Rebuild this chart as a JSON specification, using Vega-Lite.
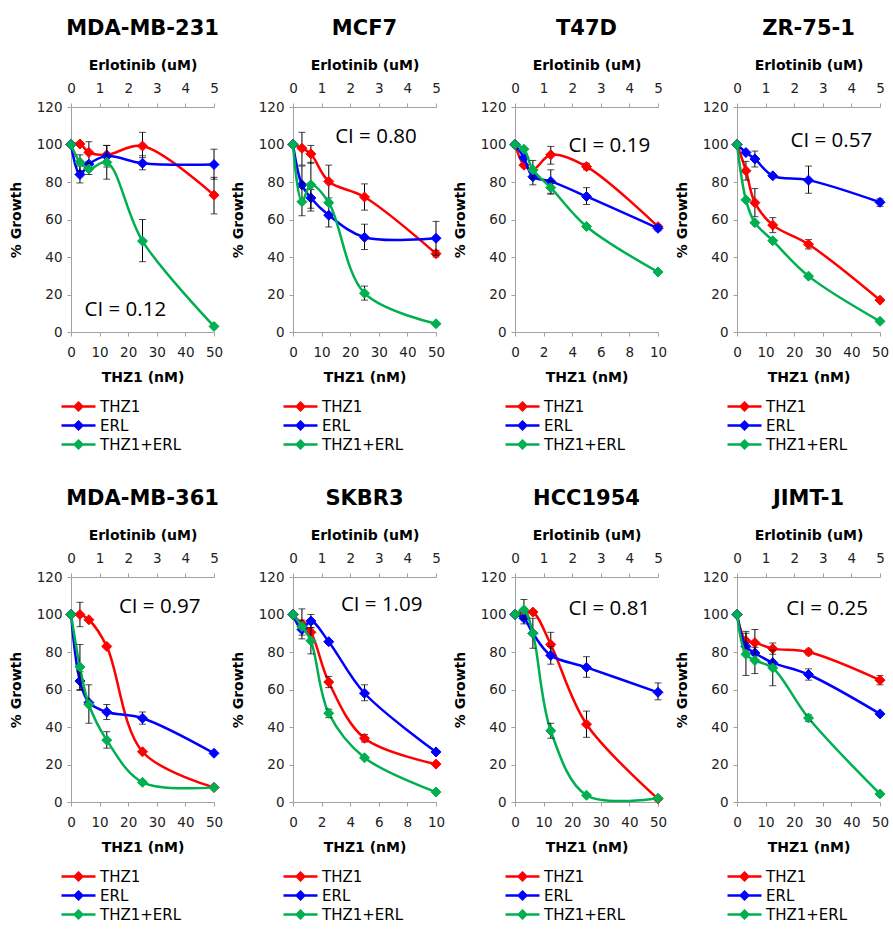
{
"$schema":"https://vega.github.io/schema/vega-lite/v6.json",
"padding":{"left":9,"top":18,"right":0,"bottom":3},
"datasets":{
"pts":[
{"p":"MDA-MB-231","s":"THZ1","d":0,"v":100},{"p":"MDA-MB-231","s":"THZ1","d":3.125,"v":100.3},{"p":"MDA-MB-231","s":"THZ1","d":6.25,"v":95.8,"lo":91,"hi":101.5},{"p":"MDA-MB-231","s":"THZ1","d":12.5,"v":94.5},{"p":"MDA-MB-231","s":"THZ1","d":25,"v":99.2,"lo":93,"hi":106.5},{"p":"MDA-MB-231","s":"THZ1","d":50,"v":73,"lo":63,"hi":82.5},
{"p":"MDA-MB-231","s":"ERL","d":0,"v":100},{"p":"MDA-MB-231","s":"ERL","d":0.3125,"v":84,"lo":79.5,"hi":88.5},{"p":"MDA-MB-231","s":"ERL","d":0.625,"v":89.5},{"p":"MDA-MB-231","s":"ERL","d":1.25,"v":93.8,"lo":88,"hi":99.5},{"p":"MDA-MB-231","s":"ERL","d":2.5,"v":90,"lo":86.5,"hi":94},{"p":"MDA-MB-231","s":"ERL","d":5,"v":89.3,"lo":81.5,"hi":97.5},
{"p":"MDA-MB-231","s":"THZ1+ERL","d":0,"v":100},{"p":"MDA-MB-231","s":"THZ1+ERL","d":3.125,"v":90.5,"lo":86,"hi":94.5},{"p":"MDA-MB-231","s":"THZ1+ERL","d":6.25,"v":87,"lo":84,"hi":90},{"p":"MDA-MB-231","s":"THZ1+ERL","d":12.5,"v":90.5,"lo":81.5,"hi":99.5},{"p":"MDA-MB-231","s":"THZ1+ERL","d":25,"v":48.5,"lo":37.5,"hi":60},{"p":"MDA-MB-231","s":"THZ1+ERL","d":50,"v":3},

{"p":"MCF7","s":"THZ1","d":0,"v":100},{"p":"MCF7","s":"THZ1","d":3.125,"v":98,"lo":89,"hi":106.5},{"p":"MCF7","s":"THZ1","d":6.25,"v":95,"lo":90,"hi":99.5},{"p":"MCF7","s":"THZ1","d":12.5,"v":80.3,"lo":71.5,"hi":89},{"p":"MCF7","s":"THZ1","d":25,"v":72,"lo":65,"hi":79},{"p":"MCF7","s":"THZ1","d":50,"v":41.8,"lo":40,"hi":43.5},
{"p":"MCF7","s":"ERL","d":0,"v":100},{"p":"MCF7","s":"ERL","d":0.3125,"v":78.5},{"p":"MCF7","s":"ERL","d":0.625,"v":71.5,"lo":66,"hi":76},{"p":"MCF7","s":"ERL","d":1.25,"v":62.3,"lo":56,"hi":68},{"p":"MCF7","s":"ERL","d":2.5,"v":50.5,"lo":44,"hi":57.5},{"p":"MCF7","s":"ERL","d":5,"v":50,"lo":41,"hi":59},
{"p":"MCF7","s":"THZ1+ERL","d":0,"v":100},{"p":"MCF7","s":"THZ1+ERL","d":3.125,"v":69.5,"lo":62,"hi":88.5},{"p":"MCF7","s":"THZ1+ERL","d":6.25,"v":78.5,"lo":64.5,"hi":90.5},{"p":"MCF7","s":"THZ1+ERL","d":12.5,"v":69},{"p":"MCF7","s":"THZ1+ERL","d":25,"v":20.7,"lo":17,"hi":24.5},{"p":"MCF7","s":"THZ1+ERL","d":50,"v":4.4},

{"p":"T47D","s":"THZ1","d":0,"v":100},{"p":"T47D","s":"THZ1","d":0.625,"v":89},{"p":"T47D","s":"THZ1","d":1.25,"v":86.5},{"p":"T47D","s":"THZ1","d":2.5,"v":94.5,"lo":89.5,"hi":99},{"p":"T47D","s":"THZ1","d":5,"v":88.2,"lo":86.5,"hi":90},{"p":"T47D","s":"THZ1","d":10,"v":56.2},
{"p":"T47D","s":"ERL","d":0,"v":100},{"p":"T47D","s":"ERL","d":0.3125,"v":93},{"p":"T47D","s":"ERL","d":0.625,"v":82.8,"lo":78.5,"hi":87},{"p":"T47D","s":"ERL","d":1.25,"v":80.3,"lo":74,"hi":86.5},{"p":"T47D","s":"ERL","d":2.5,"v":72.3,"lo":68,"hi":77},{"p":"T47D","s":"ERL","d":5,"v":55.3,"lo":54,"hi":57},
{"p":"T47D","s":"THZ1+ERL","d":0,"v":100},{"p":"T47D","s":"THZ1+ERL","d":0.625,"v":97.5},{"p":"T47D","s":"THZ1+ERL","d":1.25,"v":86.5,"lo":82,"hi":91.5},{"p":"T47D","s":"THZ1+ERL","d":2.5,"v":77,"lo":73.5,"hi":80.5},{"p":"T47D","s":"THZ1+ERL","d":5,"v":56.3},{"p":"T47D","s":"THZ1+ERL","d":10,"v":32},

{"p":"ZR-75-1","s":"THZ1","d":0,"v":100},{"p":"ZR-75-1","s":"THZ1","d":3.125,"v":86,"lo":81,"hi":91},{"p":"ZR-75-1","s":"THZ1","d":6.25,"v":69,"lo":61.5,"hi":76.5},{"p":"ZR-75-1","s":"THZ1","d":12.5,"v":57,"lo":53,"hi":61},{"p":"ZR-75-1","s":"THZ1","d":25,"v":46.8,"lo":44.3,"hi":49.3},{"p":"ZR-75-1","s":"THZ1","d":50,"v":17},
{"p":"ZR-75-1","s":"ERL","d":0,"v":100},{"p":"ZR-75-1","s":"ERL","d":0.3125,"v":95.7},{"p":"ZR-75-1","s":"ERL","d":0.625,"v":92.3,"lo":88,"hi":96.5},{"p":"ZR-75-1","s":"ERL","d":1.25,"v":83.3},{"p":"ZR-75-1","s":"ERL","d":2.5,"v":81,"lo":74,"hi":88.5},{"p":"ZR-75-1","s":"ERL","d":5,"v":69.2,"lo":67,"hi":71},
{"p":"ZR-75-1","s":"THZ1+ERL","d":0,"v":100},{"p":"ZR-75-1","s":"THZ1+ERL","d":3.125,"v":70.5},{"p":"ZR-75-1","s":"THZ1+ERL","d":6.25,"v":58.3},{"p":"ZR-75-1","s":"THZ1+ERL","d":12.5,"v":48.7},{"p":"ZR-75-1","s":"THZ1+ERL","d":25,"v":29.8},{"p":"ZR-75-1","s":"THZ1+ERL","d":50,"v":5.7},

{"p":"MDA-MB-361","s":"THZ1","d":0,"v":100},{"p":"MDA-MB-361","s":"THZ1","d":3.125,"v":100,"lo":93.5,"hi":106.5},{"p":"MDA-MB-361","s":"THZ1","d":6.25,"v":97.2},{"p":"MDA-MB-361","s":"THZ1","d":12.5,"v":83},{"p":"MDA-MB-361","s":"THZ1","d":25,"v":26.8},{"p":"MDA-MB-361","s":"THZ1","d":50,"v":7.8},
{"p":"MDA-MB-361","s":"ERL","d":0,"v":100},{"p":"MDA-MB-361","s":"ERL","d":0.3125,"v":64.5,"lo":59.5,"hi":69.5},{"p":"MDA-MB-361","s":"ERL","d":0.625,"v":53},{"p":"MDA-MB-361","s":"ERL","d":1.25,"v":48,"lo":44,"hi":52},{"p":"MDA-MB-361","s":"ERL","d":2.5,"v":44.7,"lo":41.5,"hi":48},{"p":"MDA-MB-361","s":"ERL","d":5,"v":26},
{"p":"MDA-MB-361","s":"THZ1+ERL","d":0,"v":100},{"p":"MDA-MB-361","s":"THZ1+ERL","d":3.125,"v":72,"lo":60,"hi":84},{"p":"MDA-MB-361","s":"THZ1+ERL","d":6.25,"v":52,"lo":42,"hi":62.5},{"p":"MDA-MB-361","s":"THZ1+ERL","d":12.5,"v":33,"lo":28.7,"hi":37.5},{"p":"MDA-MB-361","s":"THZ1+ERL","d":25,"v":10.5},{"p":"MDA-MB-361","s":"THZ1+ERL","d":50,"v":7.8},

{"p":"SKBR3","s":"THZ1","d":0,"v":100},{"p":"SKBR3","s":"THZ1","d":0.625,"v":95,"lo":89,"hi":103},{"p":"SKBR3","s":"THZ1","d":1.25,"v":90.5,"lo":86,"hi":95},{"p":"SKBR3","s":"THZ1","d":2.5,"v":64,"lo":61,"hi":67},{"p":"SKBR3","s":"THZ1","d":5,"v":34,"lo":32,"hi":36},{"p":"SKBR3","s":"THZ1","d":10,"v":20.2},
{"p":"SKBR3","s":"ERL","d":0,"v":100},{"p":"SKBR3","s":"ERL","d":0.3125,"v":92,"lo":87,"hi":97},{"p":"SKBR3","s":"ERL","d":0.625,"v":96.5,"lo":93,"hi":100},{"p":"SKBR3","s":"ERL","d":1.25,"v":85.5},{"p":"SKBR3","s":"ERL","d":2.5,"v":58,"lo":54,"hi":62.5},{"p":"SKBR3","s":"ERL","d":5,"v":26.7},
{"p":"SKBR3","s":"THZ1+ERL","d":0,"v":100},{"p":"SKBR3","s":"THZ1+ERL","d":0.625,"v":93.6},{"p":"SKBR3","s":"THZ1+ERL","d":1.25,"v":86,"lo":79,"hi":93},{"p":"SKBR3","s":"THZ1+ERL","d":2.5,"v":47.3,"lo":45,"hi":49.5},{"p":"SKBR3","s":"THZ1+ERL","d":5,"v":23.6},{"p":"SKBR3","s":"THZ1+ERL","d":10,"v":5.3},

{"p":"HCC1954","s":"THZ1","d":0,"v":100},{"p":"HCC1954","s":"THZ1","d":3.125,"v":101},{"p":"HCC1954","s":"THZ1","d":6.25,"v":101.3},{"p":"HCC1954","s":"THZ1","d":12.5,"v":84,"lo":77.5,"hi":90.5},{"p":"HCC1954","s":"THZ1","d":25,"v":41.5,"lo":34.5,"hi":48.5},{"p":"HCC1954","s":"THZ1","d":50,"v":1.7},
{"p":"HCC1954","s":"ERL","d":0,"v":100},{"p":"HCC1954","s":"ERL","d":0.3125,"v":98,"lo":95,"hi":101},{"p":"HCC1954","s":"ERL","d":0.625,"v":90},{"p":"HCC1954","s":"ERL","d":1.25,"v":78.2,"lo":73.5,"hi":83},{"p":"HCC1954","s":"ERL","d":2.5,"v":71.8,"lo":66.5,"hi":77.5},{"p":"HCC1954","s":"ERL","d":5,"v":58.5,"lo":54.5,"hi":63.5},
{"p":"HCC1954","s":"THZ1+ERL","d":0,"v":100},{"p":"HCC1954","s":"THZ1+ERL","d":3.125,"v":102.5,"lo":97.5,"hi":108},{"p":"HCC1954","s":"THZ1+ERL","d":6.25,"v":90,"lo":82,"hi":98},{"p":"HCC1954","s":"THZ1+ERL","d":12.5,"v":38,"lo":34,"hi":42},{"p":"HCC1954","s":"THZ1+ERL","d":25,"v":3.6},{"p":"HCC1954","s":"THZ1+ERL","d":50,"v":2},

{"p":"JIMT-1","s":"THZ1","d":0,"v":100},{"p":"JIMT-1","s":"THZ1","d":3.125,"v":86,"lo":80.5,"hi":91},{"p":"JIMT-1","s":"THZ1","d":6.25,"v":85,"lo":78,"hi":92},{"p":"JIMT-1","s":"THZ1","d":12.5,"v":81.8,"lo":78.8,"hi":84.8},{"p":"JIMT-1","s":"THZ1","d":25,"v":80,"lo":78.5,"hi":81.5},{"p":"JIMT-1","s":"THZ1","d":50,"v":65,"lo":62.5,"hi":67.5},
{"p":"JIMT-1","s":"ERL","d":0,"v":100},{"p":"JIMT-1","s":"ERL","d":0.3125,"v":83},{"p":"JIMT-1","s":"ERL","d":0.625,"v":79.5},{"p":"JIMT-1","s":"ERL","d":1.25,"v":74.3},{"p":"JIMT-1","s":"ERL","d":2.5,"v":68,"lo":65,"hi":71},{"p":"JIMT-1","s":"ERL","d":5,"v":47},
{"p":"JIMT-1","s":"THZ1+ERL","d":0,"v":100},{"p":"JIMT-1","s":"THZ1+ERL","d":3.125,"v":78.8,"lo":67.5,"hi":90},{"p":"JIMT-1","s":"THZ1+ERL","d":6.25,"v":75.5,"lo":68.5,"hi":82.5},{"p":"JIMT-1","s":"THZ1+ERL","d":12.5,"v":71.5,"lo":62,"hi":81},{"p":"JIMT-1","s":"THZ1+ERL","d":25,"v":44.8,"lo":43,"hi":46.5},{"p":"JIMT-1","s":"THZ1+ERL","d":50,"v":4.3}
],
"ci":[
{"p":"MDA-MB-231","t":"CI = 0.12","d":19,"v":12},
{"p":"MCF7","t":"CI = 0.80","d":29,"v":104},
{"p":"T47D","t":"CI = 0.19","d":6.6,"v":99},
{"p":"ZR-75-1","t":"CI = 0.57","d":33,"v":102},
{"p":"MDA-MB-361","t":"CI = 0.97","d":31,"v":104},
{"p":"SKBR3","t":"CI = 1.09","d":6.2,"v":105},
{"p":"HCC1954","t":"CI = 0.81","d":33,"v":103},
{"p":"JIMT-1","t":"CI = 0.25","d":31.5,"v":103}
]
},
"columns":4,
"spacing":{"row":34,"column":8},
"resolve":{"legend":{"fill":"independent","stroke":"independent"},"scale":{"fill":"independent","stroke":"independent"}},
"concat":[
{"width":143,"height":225,"title":"MDA-MB-231","resolve":{"scale":{"x":"independent"}},"layer":[
{"data":{"name":"pts"},"transform":[{"filter":"datum.p==='MDA-MB-231' && datum.s==='THZ1'"}],
"encoding":{"x":{"field":"d","type":"quantitative","scale":{"domain":[0,50],"nice":false},"axis":{"orient":"bottom","title":"THZ1 (nM)","values":[0,10,20,30,40,50]}},"y":{"field":"v","type":"quantitative","scale":{"domain":[0,120],"nice":false},"axis":{"values":[0,20,40,60,80,100,120]},"title":"% Growth"}},
"layer":[
{"mark":{"type":"line","interpolate":"catmull-rom","strokeWidth":2.5},"encoding":{"stroke":{"field":"s","type":"nominal","scale":{"domain":["THZ1","ERL","THZ1+ERL"],"range":["#ff0000","#0000ff","#00b050"]},"legend":{"orient":"bottom","direction":"vertical","title":null,"symbolType":"M-3.4,0L3.4,0M0,-0.75L0.75,0L0,0.75L-0.75,0Z","symbolSize":100,"symbolStrokeWidth":2.5,"labelOffset":14,"labelFontSize":15,"labelFont":"DejaVu Sans","labelColor":"black","rowPadding":0,"offset":14}}}},
{"transform":[{"filter":"isValid(datum.lo)"}],"mark":{"type":"errorbar","ticks":{"size":7},"color":"black","thickness":1},"encoding":{"y":{"field":"lo","type":"quantitative","title":"% Growth"},"y2":{"field":"hi"}}},
{"mark":{"type":"point","shape":"diamond","filled":true,"opacity":1,"strokeWidth":1,"size":100},"encoding":{"fill":{"field":"s","type":"nominal","scale":{"domain":["THZ1","ERL","THZ1+ERL"],"range":["#ff0000","#0000ff","#00b050"]},"legend":{"orient":"bottom","direction":"vertical","title":null,"symbolType":"M-3.4,0L3.4,0M0,-0.75L0.75,0L0,0.75L-0.75,0Z","symbolSize":100,"symbolStrokeWidth":2.5,"labelOffset":14,"labelFontSize":15,"labelFont":"DejaVu Sans","labelColor":"black","rowPadding":0,"offset":14}},"stroke":{"field":"s","type":"nominal","scale":{"domain":["THZ1","ERL","THZ1+ERL"],"range":["#ff0000","#0000ff","#00b050"]},"legend":{"orient":"bottom","direction":"vertical","title":null,"symbolType":"M-3.4,0L3.4,0M0,-0.75L0.75,0L0,0.75L-0.75,0Z","symbolSize":100,"symbolStrokeWidth":2.5,"labelOffset":14,"labelFontSize":15,"labelFont":"DejaVu Sans","labelColor":"black","rowPadding":0,"offset":14}}}}
]},
{"data":{"name":"pts"},"transform":[{"filter":"datum.p==='MDA-MB-231' && datum.s==='ERL'"}],
"encoding":{"x":{"field":"d","type":"quantitative","scale":{"domain":[0,5],"nice":false},"axis":{"orient":"top","title":"Erlotinib (uM)","values":[0,1,2,3,4,5]}},"y":{"field":"v","type":"quantitative","scale":{"domain":[0,120],"nice":false},"axis":{"values":[0,20,40,60,80,100,120]},"title":"% Growth"}},
"layer":[
{"mark":{"type":"line","interpolate":"catmull-rom","strokeWidth":2.5},"encoding":{"stroke":{"field":"s","type":"nominal","scale":{"domain":["THZ1","ERL","THZ1+ERL"],"range":["#ff0000","#0000ff","#00b050"]},"legend":{"orient":"bottom","direction":"vertical","title":null,"symbolType":"M-3.4,0L3.4,0M0,-0.75L0.75,0L0,0.75L-0.75,0Z","symbolSize":100,"symbolStrokeWidth":2.5,"labelOffset":14,"labelFontSize":15,"labelFont":"DejaVu Sans","labelColor":"black","rowPadding":0,"offset":14}}}},
{"transform":[{"filter":"isValid(datum.lo)"}],"mark":{"type":"errorbar","ticks":{"size":7},"color":"black","thickness":1},"encoding":{"y":{"field":"lo","type":"quantitative","title":"% Growth"},"y2":{"field":"hi"}}},
{"mark":{"type":"point","shape":"diamond","filled":true,"opacity":1,"strokeWidth":1,"size":100},"encoding":{"fill":{"field":"s","type":"nominal","scale":{"domain":["THZ1","ERL","THZ1+ERL"],"range":["#ff0000","#0000ff","#00b050"]},"legend":{"orient":"bottom","direction":"vertical","title":null,"symbolType":"M-3.4,0L3.4,0M0,-0.75L0.75,0L0,0.75L-0.75,0Z","symbolSize":100,"symbolStrokeWidth":2.5,"labelOffset":14,"labelFontSize":15,"labelFont":"DejaVu Sans","labelColor":"black","rowPadding":0,"offset":14}},"stroke":{"field":"s","type":"nominal","scale":{"domain":["THZ1","ERL","THZ1+ERL"],"range":["#ff0000","#0000ff","#00b050"]},"legend":{"orient":"bottom","direction":"vertical","title":null,"symbolType":"M-3.4,0L3.4,0M0,-0.75L0.75,0L0,0.75L-0.75,0Z","symbolSize":100,"symbolStrokeWidth":2.5,"labelOffset":14,"labelFontSize":15,"labelFont":"DejaVu Sans","labelColor":"black","rowPadding":0,"offset":14}}}}
]},
{"data":{"name":"pts"},"transform":[{"filter":"datum.p==='MDA-MB-231' && datum.s==='THZ1+ERL'"}],
"encoding":{"x":{"field":"d","type":"quantitative","scale":{"domain":[0,50],"nice":false},"axis":null},"y":{"field":"v","type":"quantitative","scale":{"domain":[0,120],"nice":false},"axis":{"values":[0,20,40,60,80,100,120]},"title":"% Growth"}},
"layer":[
{"mark":{"type":"line","interpolate":"catmull-rom","strokeWidth":2.5},"encoding":{"stroke":{"field":"s","type":"nominal","scale":{"domain":["THZ1","ERL","THZ1+ERL"],"range":["#ff0000","#0000ff","#00b050"]},"legend":{"orient":"bottom","direction":"vertical","title":null,"symbolType":"M-3.4,0L3.4,0M0,-0.75L0.75,0L0,0.75L-0.75,0Z","symbolSize":100,"symbolStrokeWidth":2.5,"labelOffset":14,"labelFontSize":15,"labelFont":"DejaVu Sans","labelColor":"black","rowPadding":0,"offset":14}}}},
{"transform":[{"filter":"isValid(datum.lo)"}],"mark":{"type":"errorbar","ticks":{"size":7},"color":"black","thickness":1},"encoding":{"y":{"field":"lo","type":"quantitative","title":"% Growth"},"y2":{"field":"hi"}}},
{"mark":{"type":"point","shape":"diamond","filled":true,"opacity":1,"strokeWidth":1,"size":100},"encoding":{"fill":{"field":"s","type":"nominal","scale":{"domain":["THZ1","ERL","THZ1+ERL"],"range":["#ff0000","#0000ff","#00b050"]},"legend":{"orient":"bottom","direction":"vertical","title":null,"symbolType":"M-3.4,0L3.4,0M0,-0.75L0.75,0L0,0.75L-0.75,0Z","symbolSize":100,"symbolStrokeWidth":2.5,"labelOffset":14,"labelFontSize":15,"labelFont":"DejaVu Sans","labelColor":"black","rowPadding":0,"offset":14}},"stroke":{"field":"s","type":"nominal","scale":{"domain":["THZ1","ERL","THZ1+ERL"],"range":["#ff0000","#0000ff","#00b050"]},"legend":{"orient":"bottom","direction":"vertical","title":null,"symbolType":"M-3.4,0L3.4,0M0,-0.75L0.75,0L0,0.75L-0.75,0Z","symbolSize":100,"symbolStrokeWidth":2.5,"labelOffset":14,"labelFontSize":15,"labelFont":"DejaVu Sans","labelColor":"black","rowPadding":0,"offset":14}}}}
]},
{"data":{"name":"ci"},"transform":[{"filter":"datum.p==='MDA-MB-231'"}],"mark":{"type":"text","font":"Open Sans","fontSize":20.5,"color":"black","align":"center","baseline":"middle"},
"encoding":{"x":{"field":"d","type":"quantitative","scale":{"domain":[0,50],"nice":false},"axis":null},"y":{"field":"v","type":"quantitative","scale":{"domain":[0,120],"nice":false},"axis":{"values":[0,20,40,60,80,100,120]},"title":"% Growth"},"text":{"field":"t"}}}
]},
{"width":143,"height":225,"title":"MCF7","resolve":{"scale":{"x":"independent"}},"layer":[
{"data":{"name":"pts"},"transform":[{"filter":"datum.p==='MCF7' && datum.s==='THZ1'"}],
"encoding":{"x":{"field":"d","type":"quantitative","scale":{"domain":[0,50],"nice":false},"axis":{"orient":"bottom","title":"THZ1 (nM)","values":[0,10,20,30,40,50]}},"y":{"field":"v","type":"quantitative","scale":{"domain":[0,120],"nice":false},"axis":{"values":[0,20,40,60,80,100,120]},"title":"% Growth"}},
"layer":[
{"mark":{"type":"line","interpolate":"catmull-rom","strokeWidth":2.5},"encoding":{"stroke":{"field":"s","type":"nominal","scale":{"domain":["THZ1","ERL","THZ1+ERL"],"range":["#ff0000","#0000ff","#00b050"]},"legend":{"orient":"bottom","direction":"vertical","title":null,"symbolType":"M-3.4,0L3.4,0M0,-0.75L0.75,0L0,0.75L-0.75,0Z","symbolSize":100,"symbolStrokeWidth":2.5,"labelOffset":14,"labelFontSize":15,"labelFont":"DejaVu Sans","labelColor":"black","rowPadding":0,"offset":14}}}},
{"transform":[{"filter":"isValid(datum.lo)"}],"mark":{"type":"errorbar","ticks":{"size":7},"color":"black","thickness":1},"encoding":{"y":{"field":"lo","type":"quantitative","title":"% Growth"},"y2":{"field":"hi"}}},
{"mark":{"type":"point","shape":"diamond","filled":true,"opacity":1,"strokeWidth":1,"size":100},"encoding":{"fill":{"field":"s","type":"nominal","scale":{"domain":["THZ1","ERL","THZ1+ERL"],"range":["#ff0000","#0000ff","#00b050"]},"legend":{"orient":"bottom","direction":"vertical","title":null,"symbolType":"M-3.4,0L3.4,0M0,-0.75L0.75,0L0,0.75L-0.75,0Z","symbolSize":100,"symbolStrokeWidth":2.5,"labelOffset":14,"labelFontSize":15,"labelFont":"DejaVu Sans","labelColor":"black","rowPadding":0,"offset":14}},"stroke":{"field":"s","type":"nominal","scale":{"domain":["THZ1","ERL","THZ1+ERL"],"range":["#ff0000","#0000ff","#00b050"]},"legend":{"orient":"bottom","direction":"vertical","title":null,"symbolType":"M-3.4,0L3.4,0M0,-0.75L0.75,0L0,0.75L-0.75,0Z","symbolSize":100,"symbolStrokeWidth":2.5,"labelOffset":14,"labelFontSize":15,"labelFont":"DejaVu Sans","labelColor":"black","rowPadding":0,"offset":14}}}}
]},
{"data":{"name":"pts"},"transform":[{"filter":"datum.p==='MCF7' && datum.s==='ERL'"}],
"encoding":{"x":{"field":"d","type":"quantitative","scale":{"domain":[0,5],"nice":false},"axis":{"orient":"top","title":"Erlotinib (uM)","values":[0,1,2,3,4,5]}},"y":{"field":"v","type":"quantitative","scale":{"domain":[0,120],"nice":false},"axis":{"values":[0,20,40,60,80,100,120]},"title":"% Growth"}},
"layer":[
{"mark":{"type":"line","interpolate":"catmull-rom","strokeWidth":2.5},"encoding":{"stroke":{"field":"s","type":"nominal","scale":{"domain":["THZ1","ERL","THZ1+ERL"],"range":["#ff0000","#0000ff","#00b050"]},"legend":{"orient":"bottom","direction":"vertical","title":null,"symbolType":"M-3.4,0L3.4,0M0,-0.75L0.75,0L0,0.75L-0.75,0Z","symbolSize":100,"symbolStrokeWidth":2.5,"labelOffset":14,"labelFontSize":15,"labelFont":"DejaVu Sans","labelColor":"black","rowPadding":0,"offset":14}}}},
{"transform":[{"filter":"isValid(datum.lo)"}],"mark":{"type":"errorbar","ticks":{"size":7},"color":"black","thickness":1},"encoding":{"y":{"field":"lo","type":"quantitative","title":"% Growth"},"y2":{"field":"hi"}}},
{"mark":{"type":"point","shape":"diamond","filled":true,"opacity":1,"strokeWidth":1,"size":100},"encoding":{"fill":{"field":"s","type":"nominal","scale":{"domain":["THZ1","ERL","THZ1+ERL"],"range":["#ff0000","#0000ff","#00b050"]},"legend":{"orient":"bottom","direction":"vertical","title":null,"symbolType":"M-3.4,0L3.4,0M0,-0.75L0.75,0L0,0.75L-0.75,0Z","symbolSize":100,"symbolStrokeWidth":2.5,"labelOffset":14,"labelFontSize":15,"labelFont":"DejaVu Sans","labelColor":"black","rowPadding":0,"offset":14}},"stroke":{"field":"s","type":"nominal","scale":{"domain":["THZ1","ERL","THZ1+ERL"],"range":["#ff0000","#0000ff","#00b050"]},"legend":{"orient":"bottom","direction":"vertical","title":null,"symbolType":"M-3.4,0L3.4,0M0,-0.75L0.75,0L0,0.75L-0.75,0Z","symbolSize":100,"symbolStrokeWidth":2.5,"labelOffset":14,"labelFontSize":15,"labelFont":"DejaVu Sans","labelColor":"black","rowPadding":0,"offset":14}}}}
]},
{"data":{"name":"pts"},"transform":[{"filter":"datum.p==='MCF7' && datum.s==='THZ1+ERL'"}],
"encoding":{"x":{"field":"d","type":"quantitative","scale":{"domain":[0,50],"nice":false},"axis":null},"y":{"field":"v","type":"quantitative","scale":{"domain":[0,120],"nice":false},"axis":{"values":[0,20,40,60,80,100,120]},"title":"% Growth"}},
"layer":[
{"mark":{"type":"line","interpolate":"catmull-rom","strokeWidth":2.5},"encoding":{"stroke":{"field":"s","type":"nominal","scale":{"domain":["THZ1","ERL","THZ1+ERL"],"range":["#ff0000","#0000ff","#00b050"]},"legend":{"orient":"bottom","direction":"vertical","title":null,"symbolType":"M-3.4,0L3.4,0M0,-0.75L0.75,0L0,0.75L-0.75,0Z","symbolSize":100,"symbolStrokeWidth":2.5,"labelOffset":14,"labelFontSize":15,"labelFont":"DejaVu Sans","labelColor":"black","rowPadding":0,"offset":14}}}},
{"transform":[{"filter":"isValid(datum.lo)"}],"mark":{"type":"errorbar","ticks":{"size":7},"color":"black","thickness":1},"encoding":{"y":{"field":"lo","type":"quantitative","title":"% Growth"},"y2":{"field":"hi"}}},
{"mark":{"type":"point","shape":"diamond","filled":true,"opacity":1,"strokeWidth":1,"size":100},"encoding":{"fill":{"field":"s","type":"nominal","scale":{"domain":["THZ1","ERL","THZ1+ERL"],"range":["#ff0000","#0000ff","#00b050"]},"legend":{"orient":"bottom","direction":"vertical","title":null,"symbolType":"M-3.4,0L3.4,0M0,-0.75L0.75,0L0,0.75L-0.75,0Z","symbolSize":100,"symbolStrokeWidth":2.5,"labelOffset":14,"labelFontSize":15,"labelFont":"DejaVu Sans","labelColor":"black","rowPadding":0,"offset":14}},"stroke":{"field":"s","type":"nominal","scale":{"domain":["THZ1","ERL","THZ1+ERL"],"range":["#ff0000","#0000ff","#00b050"]},"legend":{"orient":"bottom","direction":"vertical","title":null,"symbolType":"M-3.4,0L3.4,0M0,-0.75L0.75,0L0,0.75L-0.75,0Z","symbolSize":100,"symbolStrokeWidth":2.5,"labelOffset":14,"labelFontSize":15,"labelFont":"DejaVu Sans","labelColor":"black","rowPadding":0,"offset":14}}}}
]},
{"data":{"name":"ci"},"transform":[{"filter":"datum.p==='MCF7'"}],"mark":{"type":"text","font":"Open Sans","fontSize":20.5,"color":"black","align":"center","baseline":"middle"},
"encoding":{"x":{"field":"d","type":"quantitative","scale":{"domain":[0,50],"nice":false},"axis":null},"y":{"field":"v","type":"quantitative","scale":{"domain":[0,120],"nice":false},"axis":{"values":[0,20,40,60,80,100,120]},"title":"% Growth"},"text":{"field":"t"}}}
]},
{"width":143,"height":225,"title":"T47D","resolve":{"scale":{"x":"independent"}},"layer":[
{"data":{"name":"pts"},"transform":[{"filter":"datum.p==='T47D' && datum.s==='THZ1'"}],
"encoding":{"x":{"field":"d","type":"quantitative","scale":{"domain":[0,10],"nice":false},"axis":{"orient":"bottom","title":"THZ1 (nM)","values":[0,2,4,6,8,10]}},"y":{"field":"v","type":"quantitative","scale":{"domain":[0,120],"nice":false},"axis":{"values":[0,20,40,60,80,100,120]},"title":"% Growth"}},
"layer":[
{"mark":{"type":"line","interpolate":"catmull-rom","strokeWidth":2.5},"encoding":{"stroke":{"field":"s","type":"nominal","scale":{"domain":["THZ1","ERL","THZ1+ERL"],"range":["#ff0000","#0000ff","#00b050"]},"legend":{"orient":"bottom","direction":"vertical","title":null,"symbolType":"M-3.4,0L3.4,0M0,-0.75L0.75,0L0,0.75L-0.75,0Z","symbolSize":100,"symbolStrokeWidth":2.5,"labelOffset":14,"labelFontSize":15,"labelFont":"DejaVu Sans","labelColor":"black","rowPadding":0,"offset":14}}}},
{"transform":[{"filter":"isValid(datum.lo)"}],"mark":{"type":"errorbar","ticks":{"size":7},"color":"black","thickness":1},"encoding":{"y":{"field":"lo","type":"quantitative","title":"% Growth"},"y2":{"field":"hi"}}},
{"mark":{"type":"point","shape":"diamond","filled":true,"opacity":1,"strokeWidth":1,"size":100},"encoding":{"fill":{"field":"s","type":"nominal","scale":{"domain":["THZ1","ERL","THZ1+ERL"],"range":["#ff0000","#0000ff","#00b050"]},"legend":{"orient":"bottom","direction":"vertical","title":null,"symbolType":"M-3.4,0L3.4,0M0,-0.75L0.75,0L0,0.75L-0.75,0Z","symbolSize":100,"symbolStrokeWidth":2.5,"labelOffset":14,"labelFontSize":15,"labelFont":"DejaVu Sans","labelColor":"black","rowPadding":0,"offset":14}},"stroke":{"field":"s","type":"nominal","scale":{"domain":["THZ1","ERL","THZ1+ERL"],"range":["#ff0000","#0000ff","#00b050"]},"legend":{"orient":"bottom","direction":"vertical","title":null,"symbolType":"M-3.4,0L3.4,0M0,-0.75L0.75,0L0,0.75L-0.75,0Z","symbolSize":100,"symbolStrokeWidth":2.5,"labelOffset":14,"labelFontSize":15,"labelFont":"DejaVu Sans","labelColor":"black","rowPadding":0,"offset":14}}}}
]},
{"data":{"name":"pts"},"transform":[{"filter":"datum.p==='T47D' && datum.s==='ERL'"}],
"encoding":{"x":{"field":"d","type":"quantitative","scale":{"domain":[0,5],"nice":false},"axis":{"orient":"top","title":"Erlotinib (uM)","values":[0,1,2,3,4,5]}},"y":{"field":"v","type":"quantitative","scale":{"domain":[0,120],"nice":false},"axis":{"values":[0,20,40,60,80,100,120]},"title":"% Growth"}},
"layer":[
{"mark":{"type":"line","interpolate":"catmull-rom","strokeWidth":2.5},"encoding":{"stroke":{"field":"s","type":"nominal","scale":{"domain":["THZ1","ERL","THZ1+ERL"],"range":["#ff0000","#0000ff","#00b050"]},"legend":{"orient":"bottom","direction":"vertical","title":null,"symbolType":"M-3.4,0L3.4,0M0,-0.75L0.75,0L0,0.75L-0.75,0Z","symbolSize":100,"symbolStrokeWidth":2.5,"labelOffset":14,"labelFontSize":15,"labelFont":"DejaVu Sans","labelColor":"black","rowPadding":0,"offset":14}}}},
{"transform":[{"filter":"isValid(datum.lo)"}],"mark":{"type":"errorbar","ticks":{"size":7},"color":"black","thickness":1},"encoding":{"y":{"field":"lo","type":"quantitative","title":"% Growth"},"y2":{"field":"hi"}}},
{"mark":{"type":"point","shape":"diamond","filled":true,"opacity":1,"strokeWidth":1,"size":100},"encoding":{"fill":{"field":"s","type":"nominal","scale":{"domain":["THZ1","ERL","THZ1+ERL"],"range":["#ff0000","#0000ff","#00b050"]},"legend":{"orient":"bottom","direction":"vertical","title":null,"symbolType":"M-3.4,0L3.4,0M0,-0.75L0.75,0L0,0.75L-0.75,0Z","symbolSize":100,"symbolStrokeWidth":2.5,"labelOffset":14,"labelFontSize":15,"labelFont":"DejaVu Sans","labelColor":"black","rowPadding":0,"offset":14}},"stroke":{"field":"s","type":"nominal","scale":{"domain":["THZ1","ERL","THZ1+ERL"],"range":["#ff0000","#0000ff","#00b050"]},"legend":{"orient":"bottom","direction":"vertical","title":null,"symbolType":"M-3.4,0L3.4,0M0,-0.75L0.75,0L0,0.75L-0.75,0Z","symbolSize":100,"symbolStrokeWidth":2.5,"labelOffset":14,"labelFontSize":15,"labelFont":"DejaVu Sans","labelColor":"black","rowPadding":0,"offset":14}}}}
]},
{"data":{"name":"pts"},"transform":[{"filter":"datum.p==='T47D' && datum.s==='THZ1+ERL'"}],
"encoding":{"x":{"field":"d","type":"quantitative","scale":{"domain":[0,10],"nice":false},"axis":null},"y":{"field":"v","type":"quantitative","scale":{"domain":[0,120],"nice":false},"axis":{"values":[0,20,40,60,80,100,120]},"title":"% Growth"}},
"layer":[
{"mark":{"type":"line","interpolate":"catmull-rom","strokeWidth":2.5},"encoding":{"stroke":{"field":"s","type":"nominal","scale":{"domain":["THZ1","ERL","THZ1+ERL"],"range":["#ff0000","#0000ff","#00b050"]},"legend":{"orient":"bottom","direction":"vertical","title":null,"symbolType":"M-3.4,0L3.4,0M0,-0.75L0.75,0L0,0.75L-0.75,0Z","symbolSize":100,"symbolStrokeWidth":2.5,"labelOffset":14,"labelFontSize":15,"labelFont":"DejaVu Sans","labelColor":"black","rowPadding":0,"offset":14}}}},
{"transform":[{"filter":"isValid(datum.lo)"}],"mark":{"type":"errorbar","ticks":{"size":7},"color":"black","thickness":1},"encoding":{"y":{"field":"lo","type":"quantitative","title":"% Growth"},"y2":{"field":"hi"}}},
{"mark":{"type":"point","shape":"diamond","filled":true,"opacity":1,"strokeWidth":1,"size":100},"encoding":{"fill":{"field":"s","type":"nominal","scale":{"domain":["THZ1","ERL","THZ1+ERL"],"range":["#ff0000","#0000ff","#00b050"]},"legend":{"orient":"bottom","direction":"vertical","title":null,"symbolType":"M-3.4,0L3.4,0M0,-0.75L0.75,0L0,0.75L-0.75,0Z","symbolSize":100,"symbolStrokeWidth":2.5,"labelOffset":14,"labelFontSize":15,"labelFont":"DejaVu Sans","labelColor":"black","rowPadding":0,"offset":14}},"stroke":{"field":"s","type":"nominal","scale":{"domain":["THZ1","ERL","THZ1+ERL"],"range":["#ff0000","#0000ff","#00b050"]},"legend":{"orient":"bottom","direction":"vertical","title":null,"symbolType":"M-3.4,0L3.4,0M0,-0.75L0.75,0L0,0.75L-0.75,0Z","symbolSize":100,"symbolStrokeWidth":2.5,"labelOffset":14,"labelFontSize":15,"labelFont":"DejaVu Sans","labelColor":"black","rowPadding":0,"offset":14}}}}
]},
{"data":{"name":"ci"},"transform":[{"filter":"datum.p==='T47D'"}],"mark":{"type":"text","font":"Open Sans","fontSize":20.5,"color":"black","align":"center","baseline":"middle"},
"encoding":{"x":{"field":"d","type":"quantitative","scale":{"domain":[0,10],"nice":false},"axis":null},"y":{"field":"v","type":"quantitative","scale":{"domain":[0,120],"nice":false},"axis":{"values":[0,20,40,60,80,100,120]},"title":"% Growth"},"text":{"field":"t"}}}
]},
{"width":143,"height":225,"title":"ZR-75-1","resolve":{"scale":{"x":"independent"}},"layer":[
{"data":{"name":"pts"},"transform":[{"filter":"datum.p==='ZR-75-1' && datum.s==='THZ1'"}],
"encoding":{"x":{"field":"d","type":"quantitative","scale":{"domain":[0,50],"nice":false},"axis":{"orient":"bottom","title":"THZ1 (nM)","values":[0,10,20,30,40,50]}},"y":{"field":"v","type":"quantitative","scale":{"domain":[0,120],"nice":false},"axis":{"values":[0,20,40,60,80,100,120]},"title":"% Growth"}},
"layer":[
{"mark":{"type":"line","interpolate":"catmull-rom","strokeWidth":2.5},"encoding":{"stroke":{"field":"s","type":"nominal","scale":{"domain":["THZ1","ERL","THZ1+ERL"],"range":["#ff0000","#0000ff","#00b050"]},"legend":{"orient":"bottom","direction":"vertical","title":null,"symbolType":"M-3.4,0L3.4,0M0,-0.75L0.75,0L0,0.75L-0.75,0Z","symbolSize":100,"symbolStrokeWidth":2.5,"labelOffset":14,"labelFontSize":15,"labelFont":"DejaVu Sans","labelColor":"black","rowPadding":0,"offset":14}}}},
{"transform":[{"filter":"isValid(datum.lo)"}],"mark":{"type":"errorbar","ticks":{"size":7},"color":"black","thickness":1},"encoding":{"y":{"field":"lo","type":"quantitative","title":"% Growth"},"y2":{"field":"hi"}}},
{"mark":{"type":"point","shape":"diamond","filled":true,"opacity":1,"strokeWidth":1,"size":100},"encoding":{"fill":{"field":"s","type":"nominal","scale":{"domain":["THZ1","ERL","THZ1+ERL"],"range":["#ff0000","#0000ff","#00b050"]},"legend":{"orient":"bottom","direction":"vertical","title":null,"symbolType":"M-3.4,0L3.4,0M0,-0.75L0.75,0L0,0.75L-0.75,0Z","symbolSize":100,"symbolStrokeWidth":2.5,"labelOffset":14,"labelFontSize":15,"labelFont":"DejaVu Sans","labelColor":"black","rowPadding":0,"offset":14}},"stroke":{"field":"s","type":"nominal","scale":{"domain":["THZ1","ERL","THZ1+ERL"],"range":["#ff0000","#0000ff","#00b050"]},"legend":{"orient":"bottom","direction":"vertical","title":null,"symbolType":"M-3.4,0L3.4,0M0,-0.75L0.75,0L0,0.75L-0.75,0Z","symbolSize":100,"symbolStrokeWidth":2.5,"labelOffset":14,"labelFontSize":15,"labelFont":"DejaVu Sans","labelColor":"black","rowPadding":0,"offset":14}}}}
]},
{"data":{"name":"pts"},"transform":[{"filter":"datum.p==='ZR-75-1' && datum.s==='ERL'"}],
"encoding":{"x":{"field":"d","type":"quantitative","scale":{"domain":[0,5],"nice":false},"axis":{"orient":"top","title":"Erlotinib (uM)","values":[0,1,2,3,4,5]}},"y":{"field":"v","type":"quantitative","scale":{"domain":[0,120],"nice":false},"axis":{"values":[0,20,40,60,80,100,120]},"title":"% Growth"}},
"layer":[
{"mark":{"type":"line","interpolate":"catmull-rom","strokeWidth":2.5},"encoding":{"stroke":{"field":"s","type":"nominal","scale":{"domain":["THZ1","ERL","THZ1+ERL"],"range":["#ff0000","#0000ff","#00b050"]},"legend":{"orient":"bottom","direction":"vertical","title":null,"symbolType":"M-3.4,0L3.4,0M0,-0.75L0.75,0L0,0.75L-0.75,0Z","symbolSize":100,"symbolStrokeWidth":2.5,"labelOffset":14,"labelFontSize":15,"labelFont":"DejaVu Sans","labelColor":"black","rowPadding":0,"offset":14}}}},
{"transform":[{"filter":"isValid(datum.lo)"}],"mark":{"type":"errorbar","ticks":{"size":7},"color":"black","thickness":1},"encoding":{"y":{"field":"lo","type":"quantitative","title":"% Growth"},"y2":{"field":"hi"}}},
{"mark":{"type":"point","shape":"diamond","filled":true,"opacity":1,"strokeWidth":1,"size":100},"encoding":{"fill":{"field":"s","type":"nominal","scale":{"domain":["THZ1","ERL","THZ1+ERL"],"range":["#ff0000","#0000ff","#00b050"]},"legend":{"orient":"bottom","direction":"vertical","title":null,"symbolType":"M-3.4,0L3.4,0M0,-0.75L0.75,0L0,0.75L-0.75,0Z","symbolSize":100,"symbolStrokeWidth":2.5,"labelOffset":14,"labelFontSize":15,"labelFont":"DejaVu Sans","labelColor":"black","rowPadding":0,"offset":14}},"stroke":{"field":"s","type":"nominal","scale":{"domain":["THZ1","ERL","THZ1+ERL"],"range":["#ff0000","#0000ff","#00b050"]},"legend":{"orient":"bottom","direction":"vertical","title":null,"symbolType":"M-3.4,0L3.4,0M0,-0.75L0.75,0L0,0.75L-0.75,0Z","symbolSize":100,"symbolStrokeWidth":2.5,"labelOffset":14,"labelFontSize":15,"labelFont":"DejaVu Sans","labelColor":"black","rowPadding":0,"offset":14}}}}
]},
{"data":{"name":"pts"},"transform":[{"filter":"datum.p==='ZR-75-1' && datum.s==='THZ1+ERL'"}],
"encoding":{"x":{"field":"d","type":"quantitative","scale":{"domain":[0,50],"nice":false},"axis":null},"y":{"field":"v","type":"quantitative","scale":{"domain":[0,120],"nice":false},"axis":{"values":[0,20,40,60,80,100,120]},"title":"% Growth"}},
"layer":[
{"mark":{"type":"line","interpolate":"catmull-rom","strokeWidth":2.5},"encoding":{"stroke":{"field":"s","type":"nominal","scale":{"domain":["THZ1","ERL","THZ1+ERL"],"range":["#ff0000","#0000ff","#00b050"]},"legend":{"orient":"bottom","direction":"vertical","title":null,"symbolType":"M-3.4,0L3.4,0M0,-0.75L0.75,0L0,0.75L-0.75,0Z","symbolSize":100,"symbolStrokeWidth":2.5,"labelOffset":14,"labelFontSize":15,"labelFont":"DejaVu Sans","labelColor":"black","rowPadding":0,"offset":14}}}},
{"transform":[{"filter":"isValid(datum.lo)"}],"mark":{"type":"errorbar","ticks":{"size":7},"color":"black","thickness":1},"encoding":{"y":{"field":"lo","type":"quantitative","title":"% Growth"},"y2":{"field":"hi"}}},
{"mark":{"type":"point","shape":"diamond","filled":true,"opacity":1,"strokeWidth":1,"size":100},"encoding":{"fill":{"field":"s","type":"nominal","scale":{"domain":["THZ1","ERL","THZ1+ERL"],"range":["#ff0000","#0000ff","#00b050"]},"legend":{"orient":"bottom","direction":"vertical","title":null,"symbolType":"M-3.4,0L3.4,0M0,-0.75L0.75,0L0,0.75L-0.75,0Z","symbolSize":100,"symbolStrokeWidth":2.5,"labelOffset":14,"labelFontSize":15,"labelFont":"DejaVu Sans","labelColor":"black","rowPadding":0,"offset":14}},"stroke":{"field":"s","type":"nominal","scale":{"domain":["THZ1","ERL","THZ1+ERL"],"range":["#ff0000","#0000ff","#00b050"]},"legend":{"orient":"bottom","direction":"vertical","title":null,"symbolType":"M-3.4,0L3.4,0M0,-0.75L0.75,0L0,0.75L-0.75,0Z","symbolSize":100,"symbolStrokeWidth":2.5,"labelOffset":14,"labelFontSize":15,"labelFont":"DejaVu Sans","labelColor":"black","rowPadding":0,"offset":14}}}}
]},
{"data":{"name":"ci"},"transform":[{"filter":"datum.p==='ZR-75-1'"}],"mark":{"type":"text","font":"Open Sans","fontSize":20.5,"color":"black","align":"center","baseline":"middle"},
"encoding":{"x":{"field":"d","type":"quantitative","scale":{"domain":[0,50],"nice":false},"axis":null},"y":{"field":"v","type":"quantitative","scale":{"domain":[0,120],"nice":false},"axis":{"values":[0,20,40,60,80,100,120]},"title":"% Growth"},"text":{"field":"t"}}}
]},
{"width":143,"height":225,"title":"MDA-MB-361","resolve":{"scale":{"x":"independent"}},"layer":[
{"data":{"name":"pts"},"transform":[{"filter":"datum.p==='MDA-MB-361' && datum.s==='THZ1'"}],
"encoding":{"x":{"field":"d","type":"quantitative","scale":{"domain":[0,50],"nice":false},"axis":{"orient":"bottom","title":"THZ1 (nM)","values":[0,10,20,30,40,50]}},"y":{"field":"v","type":"quantitative","scale":{"domain":[0,120],"nice":false},"axis":{"values":[0,20,40,60,80,100,120]},"title":"% Growth"}},
"layer":[
{"mark":{"type":"line","interpolate":"catmull-rom","strokeWidth":2.5},"encoding":{"stroke":{"field":"s","type":"nominal","scale":{"domain":["THZ1","ERL","THZ1+ERL"],"range":["#ff0000","#0000ff","#00b050"]},"legend":{"orient":"bottom","direction":"vertical","title":null,"symbolType":"M-3.4,0L3.4,0M0,-0.75L0.75,0L0,0.75L-0.75,0Z","symbolSize":100,"symbolStrokeWidth":2.5,"labelOffset":14,"labelFontSize":15,"labelFont":"DejaVu Sans","labelColor":"black","rowPadding":0,"offset":14}}}},
{"transform":[{"filter":"isValid(datum.lo)"}],"mark":{"type":"errorbar","ticks":{"size":7},"color":"black","thickness":1},"encoding":{"y":{"field":"lo","type":"quantitative","title":"% Growth"},"y2":{"field":"hi"}}},
{"mark":{"type":"point","shape":"diamond","filled":true,"opacity":1,"strokeWidth":1,"size":100},"encoding":{"fill":{"field":"s","type":"nominal","scale":{"domain":["THZ1","ERL","THZ1+ERL"],"range":["#ff0000","#0000ff","#00b050"]},"legend":{"orient":"bottom","direction":"vertical","title":null,"symbolType":"M-3.4,0L3.4,0M0,-0.75L0.75,0L0,0.75L-0.75,0Z","symbolSize":100,"symbolStrokeWidth":2.5,"labelOffset":14,"labelFontSize":15,"labelFont":"DejaVu Sans","labelColor":"black","rowPadding":0,"offset":14}},"stroke":{"field":"s","type":"nominal","scale":{"domain":["THZ1","ERL","THZ1+ERL"],"range":["#ff0000","#0000ff","#00b050"]},"legend":{"orient":"bottom","direction":"vertical","title":null,"symbolType":"M-3.4,0L3.4,0M0,-0.75L0.75,0L0,0.75L-0.75,0Z","symbolSize":100,"symbolStrokeWidth":2.5,"labelOffset":14,"labelFontSize":15,"labelFont":"DejaVu Sans","labelColor":"black","rowPadding":0,"offset":14}}}}
]},
{"data":{"name":"pts"},"transform":[{"filter":"datum.p==='MDA-MB-361' && datum.s==='ERL'"}],
"encoding":{"x":{"field":"d","type":"quantitative","scale":{"domain":[0,5],"nice":false},"axis":{"orient":"top","title":"Erlotinib (uM)","values":[0,1,2,3,4,5]}},"y":{"field":"v","type":"quantitative","scale":{"domain":[0,120],"nice":false},"axis":{"values":[0,20,40,60,80,100,120]},"title":"% Growth"}},
"layer":[
{"mark":{"type":"line","interpolate":"catmull-rom","strokeWidth":2.5},"encoding":{"stroke":{"field":"s","type":"nominal","scale":{"domain":["THZ1","ERL","THZ1+ERL"],"range":["#ff0000","#0000ff","#00b050"]},"legend":{"orient":"bottom","direction":"vertical","title":null,"symbolType":"M-3.4,0L3.4,0M0,-0.75L0.75,0L0,0.75L-0.75,0Z","symbolSize":100,"symbolStrokeWidth":2.5,"labelOffset":14,"labelFontSize":15,"labelFont":"DejaVu Sans","labelColor":"black","rowPadding":0,"offset":14}}}},
{"transform":[{"filter":"isValid(datum.lo)"}],"mark":{"type":"errorbar","ticks":{"size":7},"color":"black","thickness":1},"encoding":{"y":{"field":"lo","type":"quantitative","title":"% Growth"},"y2":{"field":"hi"}}},
{"mark":{"type":"point","shape":"diamond","filled":true,"opacity":1,"strokeWidth":1,"size":100},"encoding":{"fill":{"field":"s","type":"nominal","scale":{"domain":["THZ1","ERL","THZ1+ERL"],"range":["#ff0000","#0000ff","#00b050"]},"legend":{"orient":"bottom","direction":"vertical","title":null,"symbolType":"M-3.4,0L3.4,0M0,-0.75L0.75,0L0,0.75L-0.75,0Z","symbolSize":100,"symbolStrokeWidth":2.5,"labelOffset":14,"labelFontSize":15,"labelFont":"DejaVu Sans","labelColor":"black","rowPadding":0,"offset":14}},"stroke":{"field":"s","type":"nominal","scale":{"domain":["THZ1","ERL","THZ1+ERL"],"range":["#ff0000","#0000ff","#00b050"]},"legend":{"orient":"bottom","direction":"vertical","title":null,"symbolType":"M-3.4,0L3.4,0M0,-0.75L0.75,0L0,0.75L-0.75,0Z","symbolSize":100,"symbolStrokeWidth":2.5,"labelOffset":14,"labelFontSize":15,"labelFont":"DejaVu Sans","labelColor":"black","rowPadding":0,"offset":14}}}}
]},
{"data":{"name":"pts"},"transform":[{"filter":"datum.p==='MDA-MB-361' && datum.s==='THZ1+ERL'"}],
"encoding":{"x":{"field":"d","type":"quantitative","scale":{"domain":[0,50],"nice":false},"axis":null},"y":{"field":"v","type":"quantitative","scale":{"domain":[0,120],"nice":false},"axis":{"values":[0,20,40,60,80,100,120]},"title":"% Growth"}},
"layer":[
{"mark":{"type":"line","interpolate":"catmull-rom","strokeWidth":2.5},"encoding":{"stroke":{"field":"s","type":"nominal","scale":{"domain":["THZ1","ERL","THZ1+ERL"],"range":["#ff0000","#0000ff","#00b050"]},"legend":{"orient":"bottom","direction":"vertical","title":null,"symbolType":"M-3.4,0L3.4,0M0,-0.75L0.75,0L0,0.75L-0.75,0Z","symbolSize":100,"symbolStrokeWidth":2.5,"labelOffset":14,"labelFontSize":15,"labelFont":"DejaVu Sans","labelColor":"black","rowPadding":0,"offset":14}}}},
{"transform":[{"filter":"isValid(datum.lo)"}],"mark":{"type":"errorbar","ticks":{"size":7},"color":"black","thickness":1},"encoding":{"y":{"field":"lo","type":"quantitative","title":"% Growth"},"y2":{"field":"hi"}}},
{"mark":{"type":"point","shape":"diamond","filled":true,"opacity":1,"strokeWidth":1,"size":100},"encoding":{"fill":{"field":"s","type":"nominal","scale":{"domain":["THZ1","ERL","THZ1+ERL"],"range":["#ff0000","#0000ff","#00b050"]},"legend":{"orient":"bottom","direction":"vertical","title":null,"symbolType":"M-3.4,0L3.4,0M0,-0.75L0.75,0L0,0.75L-0.75,0Z","symbolSize":100,"symbolStrokeWidth":2.5,"labelOffset":14,"labelFontSize":15,"labelFont":"DejaVu Sans","labelColor":"black","rowPadding":0,"offset":14}},"stroke":{"field":"s","type":"nominal","scale":{"domain":["THZ1","ERL","THZ1+ERL"],"range":["#ff0000","#0000ff","#00b050"]},"legend":{"orient":"bottom","direction":"vertical","title":null,"symbolType":"M-3.4,0L3.4,0M0,-0.75L0.75,0L0,0.75L-0.75,0Z","symbolSize":100,"symbolStrokeWidth":2.5,"labelOffset":14,"labelFontSize":15,"labelFont":"DejaVu Sans","labelColor":"black","rowPadding":0,"offset":14}}}}
]},
{"data":{"name":"ci"},"transform":[{"filter":"datum.p==='MDA-MB-361'"}],"mark":{"type":"text","font":"Open Sans","fontSize":20.5,"color":"black","align":"center","baseline":"middle"},
"encoding":{"x":{"field":"d","type":"quantitative","scale":{"domain":[0,50],"nice":false},"axis":null},"y":{"field":"v","type":"quantitative","scale":{"domain":[0,120],"nice":false},"axis":{"values":[0,20,40,60,80,100,120]},"title":"% Growth"},"text":{"field":"t"}}}
]},
{"width":143,"height":225,"title":"SKBR3","resolve":{"scale":{"x":"independent"}},"layer":[
{"data":{"name":"pts"},"transform":[{"filter":"datum.p==='SKBR3' && datum.s==='THZ1'"}],
"encoding":{"x":{"field":"d","type":"quantitative","scale":{"domain":[0,10],"nice":false},"axis":{"orient":"bottom","title":"THZ1 (nM)","values":[0,2,4,6,8,10]}},"y":{"field":"v","type":"quantitative","scale":{"domain":[0,120],"nice":false},"axis":{"values":[0,20,40,60,80,100,120]},"title":"% Growth"}},
"layer":[
{"mark":{"type":"line","interpolate":"catmull-rom","strokeWidth":2.5},"encoding":{"stroke":{"field":"s","type":"nominal","scale":{"domain":["THZ1","ERL","THZ1+ERL"],"range":["#ff0000","#0000ff","#00b050"]},"legend":{"orient":"bottom","direction":"vertical","title":null,"symbolType":"M-3.4,0L3.4,0M0,-0.75L0.75,0L0,0.75L-0.75,0Z","symbolSize":100,"symbolStrokeWidth":2.5,"labelOffset":14,"labelFontSize":15,"labelFont":"DejaVu Sans","labelColor":"black","rowPadding":0,"offset":14}}}},
{"transform":[{"filter":"isValid(datum.lo)"}],"mark":{"type":"errorbar","ticks":{"size":7},"color":"black","thickness":1},"encoding":{"y":{"field":"lo","type":"quantitative","title":"% Growth"},"y2":{"field":"hi"}}},
{"mark":{"type":"point","shape":"diamond","filled":true,"opacity":1,"strokeWidth":1,"size":100},"encoding":{"fill":{"field":"s","type":"nominal","scale":{"domain":["THZ1","ERL","THZ1+ERL"],"range":["#ff0000","#0000ff","#00b050"]},"legend":{"orient":"bottom","direction":"vertical","title":null,"symbolType":"M-3.4,0L3.4,0M0,-0.75L0.75,0L0,0.75L-0.75,0Z","symbolSize":100,"symbolStrokeWidth":2.5,"labelOffset":14,"labelFontSize":15,"labelFont":"DejaVu Sans","labelColor":"black","rowPadding":0,"offset":14}},"stroke":{"field":"s","type":"nominal","scale":{"domain":["THZ1","ERL","THZ1+ERL"],"range":["#ff0000","#0000ff","#00b050"]},"legend":{"orient":"bottom","direction":"vertical","title":null,"symbolType":"M-3.4,0L3.4,0M0,-0.75L0.75,0L0,0.75L-0.75,0Z","symbolSize":100,"symbolStrokeWidth":2.5,"labelOffset":14,"labelFontSize":15,"labelFont":"DejaVu Sans","labelColor":"black","rowPadding":0,"offset":14}}}}
]},
{"data":{"name":"pts"},"transform":[{"filter":"datum.p==='SKBR3' && datum.s==='ERL'"}],
"encoding":{"x":{"field":"d","type":"quantitative","scale":{"domain":[0,5],"nice":false},"axis":{"orient":"top","title":"Erlotinib (uM)","values":[0,1,2,3,4,5]}},"y":{"field":"v","type":"quantitative","scale":{"domain":[0,120],"nice":false},"axis":{"values":[0,20,40,60,80,100,120]},"title":"% Growth"}},
"layer":[
{"mark":{"type":"line","interpolate":"catmull-rom","strokeWidth":2.5},"encoding":{"stroke":{"field":"s","type":"nominal","scale":{"domain":["THZ1","ERL","THZ1+ERL"],"range":["#ff0000","#0000ff","#00b050"]},"legend":{"orient":"bottom","direction":"vertical","title":null,"symbolType":"M-3.4,0L3.4,0M0,-0.75L0.75,0L0,0.75L-0.75,0Z","symbolSize":100,"symbolStrokeWidth":2.5,"labelOffset":14,"labelFontSize":15,"labelFont":"DejaVu Sans","labelColor":"black","rowPadding":0,"offset":14}}}},
{"transform":[{"filter":"isValid(datum.lo)"}],"mark":{"type":"errorbar","ticks":{"size":7},"color":"black","thickness":1},"encoding":{"y":{"field":"lo","type":"quantitative","title":"% Growth"},"y2":{"field":"hi"}}},
{"mark":{"type":"point","shape":"diamond","filled":true,"opacity":1,"strokeWidth":1,"size":100},"encoding":{"fill":{"field":"s","type":"nominal","scale":{"domain":["THZ1","ERL","THZ1+ERL"],"range":["#ff0000","#0000ff","#00b050"]},"legend":{"orient":"bottom","direction":"vertical","title":null,"symbolType":"M-3.4,0L3.4,0M0,-0.75L0.75,0L0,0.75L-0.75,0Z","symbolSize":100,"symbolStrokeWidth":2.5,"labelOffset":14,"labelFontSize":15,"labelFont":"DejaVu Sans","labelColor":"black","rowPadding":0,"offset":14}},"stroke":{"field":"s","type":"nominal","scale":{"domain":["THZ1","ERL","THZ1+ERL"],"range":["#ff0000","#0000ff","#00b050"]},"legend":{"orient":"bottom","direction":"vertical","title":null,"symbolType":"M-3.4,0L3.4,0M0,-0.75L0.75,0L0,0.75L-0.75,0Z","symbolSize":100,"symbolStrokeWidth":2.5,"labelOffset":14,"labelFontSize":15,"labelFont":"DejaVu Sans","labelColor":"black","rowPadding":0,"offset":14}}}}
]},
{"data":{"name":"pts"},"transform":[{"filter":"datum.p==='SKBR3' && datum.s==='THZ1+ERL'"}],
"encoding":{"x":{"field":"d","type":"quantitative","scale":{"domain":[0,10],"nice":false},"axis":null},"y":{"field":"v","type":"quantitative","scale":{"domain":[0,120],"nice":false},"axis":{"values":[0,20,40,60,80,100,120]},"title":"% Growth"}},
"layer":[
{"mark":{"type":"line","interpolate":"catmull-rom","strokeWidth":2.5},"encoding":{"stroke":{"field":"s","type":"nominal","scale":{"domain":["THZ1","ERL","THZ1+ERL"],"range":["#ff0000","#0000ff","#00b050"]},"legend":{"orient":"bottom","direction":"vertical","title":null,"symbolType":"M-3.4,0L3.4,0M0,-0.75L0.75,0L0,0.75L-0.75,0Z","symbolSize":100,"symbolStrokeWidth":2.5,"labelOffset":14,"labelFontSize":15,"labelFont":"DejaVu Sans","labelColor":"black","rowPadding":0,"offset":14}}}},
{"transform":[{"filter":"isValid(datum.lo)"}],"mark":{"type":"errorbar","ticks":{"size":7},"color":"black","thickness":1},"encoding":{"y":{"field":"lo","type":"quantitative","title":"% Growth"},"y2":{"field":"hi"}}},
{"mark":{"type":"point","shape":"diamond","filled":true,"opacity":1,"strokeWidth":1,"size":100},"encoding":{"fill":{"field":"s","type":"nominal","scale":{"domain":["THZ1","ERL","THZ1+ERL"],"range":["#ff0000","#0000ff","#00b050"]},"legend":{"orient":"bottom","direction":"vertical","title":null,"symbolType":"M-3.4,0L3.4,0M0,-0.75L0.75,0L0,0.75L-0.75,0Z","symbolSize":100,"symbolStrokeWidth":2.5,"labelOffset":14,"labelFontSize":15,"labelFont":"DejaVu Sans","labelColor":"black","rowPadding":0,"offset":14}},"stroke":{"field":"s","type":"nominal","scale":{"domain":["THZ1","ERL","THZ1+ERL"],"range":["#ff0000","#0000ff","#00b050"]},"legend":{"orient":"bottom","direction":"vertical","title":null,"symbolType":"M-3.4,0L3.4,0M0,-0.75L0.75,0L0,0.75L-0.75,0Z","symbolSize":100,"symbolStrokeWidth":2.5,"labelOffset":14,"labelFontSize":15,"labelFont":"DejaVu Sans","labelColor":"black","rowPadding":0,"offset":14}}}}
]},
{"data":{"name":"ci"},"transform":[{"filter":"datum.p==='SKBR3'"}],"mark":{"type":"text","font":"Open Sans","fontSize":20.5,"color":"black","align":"center","baseline":"middle"},
"encoding":{"x":{"field":"d","type":"quantitative","scale":{"domain":[0,10],"nice":false},"axis":null},"y":{"field":"v","type":"quantitative","scale":{"domain":[0,120],"nice":false},"axis":{"values":[0,20,40,60,80,100,120]},"title":"% Growth"},"text":{"field":"t"}}}
]},
{"width":143,"height":225,"title":"HCC1954","resolve":{"scale":{"x":"independent"}},"layer":[
{"data":{"name":"pts"},"transform":[{"filter":"datum.p==='HCC1954' && datum.s==='THZ1'"}],
"encoding":{"x":{"field":"d","type":"quantitative","scale":{"domain":[0,50],"nice":false},"axis":{"orient":"bottom","title":"THZ1 (nM)","values":[0,10,20,30,40,50]}},"y":{"field":"v","type":"quantitative","scale":{"domain":[0,120],"nice":false},"axis":{"values":[0,20,40,60,80,100,120]},"title":"% Growth"}},
"layer":[
{"mark":{"type":"line","interpolate":"catmull-rom","strokeWidth":2.5},"encoding":{"stroke":{"field":"s","type":"nominal","scale":{"domain":["THZ1","ERL","THZ1+ERL"],"range":["#ff0000","#0000ff","#00b050"]},"legend":{"orient":"bottom","direction":"vertical","title":null,"symbolType":"M-3.4,0L3.4,0M0,-0.75L0.75,0L0,0.75L-0.75,0Z","symbolSize":100,"symbolStrokeWidth":2.5,"labelOffset":14,"labelFontSize":15,"labelFont":"DejaVu Sans","labelColor":"black","rowPadding":0,"offset":14}}}},
{"transform":[{"filter":"isValid(datum.lo)"}],"mark":{"type":"errorbar","ticks":{"size":7},"color":"black","thickness":1},"encoding":{"y":{"field":"lo","type":"quantitative","title":"% Growth"},"y2":{"field":"hi"}}},
{"mark":{"type":"point","shape":"diamond","filled":true,"opacity":1,"strokeWidth":1,"size":100},"encoding":{"fill":{"field":"s","type":"nominal","scale":{"domain":["THZ1","ERL","THZ1+ERL"],"range":["#ff0000","#0000ff","#00b050"]},"legend":{"orient":"bottom","direction":"vertical","title":null,"symbolType":"M-3.4,0L3.4,0M0,-0.75L0.75,0L0,0.75L-0.75,0Z","symbolSize":100,"symbolStrokeWidth":2.5,"labelOffset":14,"labelFontSize":15,"labelFont":"DejaVu Sans","labelColor":"black","rowPadding":0,"offset":14}},"stroke":{"field":"s","type":"nominal","scale":{"domain":["THZ1","ERL","THZ1+ERL"],"range":["#ff0000","#0000ff","#00b050"]},"legend":{"orient":"bottom","direction":"vertical","title":null,"symbolType":"M-3.4,0L3.4,0M0,-0.75L0.75,0L0,0.75L-0.75,0Z","symbolSize":100,"symbolStrokeWidth":2.5,"labelOffset":14,"labelFontSize":15,"labelFont":"DejaVu Sans","labelColor":"black","rowPadding":0,"offset":14}}}}
]},
{"data":{"name":"pts"},"transform":[{"filter":"datum.p==='HCC1954' && datum.s==='ERL'"}],
"encoding":{"x":{"field":"d","type":"quantitative","scale":{"domain":[0,5],"nice":false},"axis":{"orient":"top","title":"Erlotinib (uM)","values":[0,1,2,3,4,5]}},"y":{"field":"v","type":"quantitative","scale":{"domain":[0,120],"nice":false},"axis":{"values":[0,20,40,60,80,100,120]},"title":"% Growth"}},
"layer":[
{"mark":{"type":"line","interpolate":"catmull-rom","strokeWidth":2.5},"encoding":{"stroke":{"field":"s","type":"nominal","scale":{"domain":["THZ1","ERL","THZ1+ERL"],"range":["#ff0000","#0000ff","#00b050"]},"legend":{"orient":"bottom","direction":"vertical","title":null,"symbolType":"M-3.4,0L3.4,0M0,-0.75L0.75,0L0,0.75L-0.75,0Z","symbolSize":100,"symbolStrokeWidth":2.5,"labelOffset":14,"labelFontSize":15,"labelFont":"DejaVu Sans","labelColor":"black","rowPadding":0,"offset":14}}}},
{"transform":[{"filter":"isValid(datum.lo)"}],"mark":{"type":"errorbar","ticks":{"size":7},"color":"black","thickness":1},"encoding":{"y":{"field":"lo","type":"quantitative","title":"% Growth"},"y2":{"field":"hi"}}},
{"mark":{"type":"point","shape":"diamond","filled":true,"opacity":1,"strokeWidth":1,"size":100},"encoding":{"fill":{"field":"s","type":"nominal","scale":{"domain":["THZ1","ERL","THZ1+ERL"],"range":["#ff0000","#0000ff","#00b050"]},"legend":{"orient":"bottom","direction":"vertical","title":null,"symbolType":"M-3.4,0L3.4,0M0,-0.75L0.75,0L0,0.75L-0.75,0Z","symbolSize":100,"symbolStrokeWidth":2.5,"labelOffset":14,"labelFontSize":15,"labelFont":"DejaVu Sans","labelColor":"black","rowPadding":0,"offset":14}},"stroke":{"field":"s","type":"nominal","scale":{"domain":["THZ1","ERL","THZ1+ERL"],"range":["#ff0000","#0000ff","#00b050"]},"legend":{"orient":"bottom","direction":"vertical","title":null,"symbolType":"M-3.4,0L3.4,0M0,-0.75L0.75,0L0,0.75L-0.75,0Z","symbolSize":100,"symbolStrokeWidth":2.5,"labelOffset":14,"labelFontSize":15,"labelFont":"DejaVu Sans","labelColor":"black","rowPadding":0,"offset":14}}}}
]},
{"data":{"name":"pts"},"transform":[{"filter":"datum.p==='HCC1954' && datum.s==='THZ1+ERL'"}],
"encoding":{"x":{"field":"d","type":"quantitative","scale":{"domain":[0,50],"nice":false},"axis":null},"y":{"field":"v","type":"quantitative","scale":{"domain":[0,120],"nice":false},"axis":{"values":[0,20,40,60,80,100,120]},"title":"% Growth"}},
"layer":[
{"mark":{"type":"line","interpolate":"catmull-rom","strokeWidth":2.5},"encoding":{"stroke":{"field":"s","type":"nominal","scale":{"domain":["THZ1","ERL","THZ1+ERL"],"range":["#ff0000","#0000ff","#00b050"]},"legend":{"orient":"bottom","direction":"vertical","title":null,"symbolType":"M-3.4,0L3.4,0M0,-0.75L0.75,0L0,0.75L-0.75,0Z","symbolSize":100,"symbolStrokeWidth":2.5,"labelOffset":14,"labelFontSize":15,"labelFont":"DejaVu Sans","labelColor":"black","rowPadding":0,"offset":14}}}},
{"transform":[{"filter":"isValid(datum.lo)"}],"mark":{"type":"errorbar","ticks":{"size":7},"color":"black","thickness":1},"encoding":{"y":{"field":"lo","type":"quantitative","title":"% Growth"},"y2":{"field":"hi"}}},
{"mark":{"type":"point","shape":"diamond","filled":true,"opacity":1,"strokeWidth":1,"size":100},"encoding":{"fill":{"field":"s","type":"nominal","scale":{"domain":["THZ1","ERL","THZ1+ERL"],"range":["#ff0000","#0000ff","#00b050"]},"legend":{"orient":"bottom","direction":"vertical","title":null,"symbolType":"M-3.4,0L3.4,0M0,-0.75L0.75,0L0,0.75L-0.75,0Z","symbolSize":100,"symbolStrokeWidth":2.5,"labelOffset":14,"labelFontSize":15,"labelFont":"DejaVu Sans","labelColor":"black","rowPadding":0,"offset":14}},"stroke":{"field":"s","type":"nominal","scale":{"domain":["THZ1","ERL","THZ1+ERL"],"range":["#ff0000","#0000ff","#00b050"]},"legend":{"orient":"bottom","direction":"vertical","title":null,"symbolType":"M-3.4,0L3.4,0M0,-0.75L0.75,0L0,0.75L-0.75,0Z","symbolSize":100,"symbolStrokeWidth":2.5,"labelOffset":14,"labelFontSize":15,"labelFont":"DejaVu Sans","labelColor":"black","rowPadding":0,"offset":14}}}}
]},
{"data":{"name":"ci"},"transform":[{"filter":"datum.p==='HCC1954'"}],"mark":{"type":"text","font":"Open Sans","fontSize":20.5,"color":"black","align":"center","baseline":"middle"},
"encoding":{"x":{"field":"d","type":"quantitative","scale":{"domain":[0,50],"nice":false},"axis":null},"y":{"field":"v","type":"quantitative","scale":{"domain":[0,120],"nice":false},"axis":{"values":[0,20,40,60,80,100,120]},"title":"% Growth"},"text":{"field":"t"}}}
]},
{"width":143,"height":225,"title":"JIMT-1","resolve":{"scale":{"x":"independent"}},"layer":[
{"data":{"name":"pts"},"transform":[{"filter":"datum.p==='JIMT-1' && datum.s==='THZ1'"}],
"encoding":{"x":{"field":"d","type":"quantitative","scale":{"domain":[0,50],"nice":false},"axis":{"orient":"bottom","title":"THZ1 (nM)","values":[0,10,20,30,40,50]}},"y":{"field":"v","type":"quantitative","scale":{"domain":[0,120],"nice":false},"axis":{"values":[0,20,40,60,80,100,120]},"title":"% Growth"}},
"layer":[
{"mark":{"type":"line","interpolate":"catmull-rom","strokeWidth":2.5},"encoding":{"stroke":{"field":"s","type":"nominal","scale":{"domain":["THZ1","ERL","THZ1+ERL"],"range":["#ff0000","#0000ff","#00b050"]},"legend":{"orient":"bottom","direction":"vertical","title":null,"symbolType":"M-3.4,0L3.4,0M0,-0.75L0.75,0L0,0.75L-0.75,0Z","symbolSize":100,"symbolStrokeWidth":2.5,"labelOffset":14,"labelFontSize":15,"labelFont":"DejaVu Sans","labelColor":"black","rowPadding":0,"offset":14}}}},
{"transform":[{"filter":"isValid(datum.lo)"}],"mark":{"type":"errorbar","ticks":{"size":7},"color":"black","thickness":1},"encoding":{"y":{"field":"lo","type":"quantitative","title":"% Growth"},"y2":{"field":"hi"}}},
{"mark":{"type":"point","shape":"diamond","filled":true,"opacity":1,"strokeWidth":1,"size":100},"encoding":{"fill":{"field":"s","type":"nominal","scale":{"domain":["THZ1","ERL","THZ1+ERL"],"range":["#ff0000","#0000ff","#00b050"]},"legend":{"orient":"bottom","direction":"vertical","title":null,"symbolType":"M-3.4,0L3.4,0M0,-0.75L0.75,0L0,0.75L-0.75,0Z","symbolSize":100,"symbolStrokeWidth":2.5,"labelOffset":14,"labelFontSize":15,"labelFont":"DejaVu Sans","labelColor":"black","rowPadding":0,"offset":14}},"stroke":{"field":"s","type":"nominal","scale":{"domain":["THZ1","ERL","THZ1+ERL"],"range":["#ff0000","#0000ff","#00b050"]},"legend":{"orient":"bottom","direction":"vertical","title":null,"symbolType":"M-3.4,0L3.4,0M0,-0.75L0.75,0L0,0.75L-0.75,0Z","symbolSize":100,"symbolStrokeWidth":2.5,"labelOffset":14,"labelFontSize":15,"labelFont":"DejaVu Sans","labelColor":"black","rowPadding":0,"offset":14}}}}
]},
{"data":{"name":"pts"},"transform":[{"filter":"datum.p==='JIMT-1' && datum.s==='ERL'"}],
"encoding":{"x":{"field":"d","type":"quantitative","scale":{"domain":[0,5],"nice":false},"axis":{"orient":"top","title":"Erlotinib (uM)","values":[0,1,2,3,4,5]}},"y":{"field":"v","type":"quantitative","scale":{"domain":[0,120],"nice":false},"axis":{"values":[0,20,40,60,80,100,120]},"title":"% Growth"}},
"layer":[
{"mark":{"type":"line","interpolate":"catmull-rom","strokeWidth":2.5},"encoding":{"stroke":{"field":"s","type":"nominal","scale":{"domain":["THZ1","ERL","THZ1+ERL"],"range":["#ff0000","#0000ff","#00b050"]},"legend":{"orient":"bottom","direction":"vertical","title":null,"symbolType":"M-3.4,0L3.4,0M0,-0.75L0.75,0L0,0.75L-0.75,0Z","symbolSize":100,"symbolStrokeWidth":2.5,"labelOffset":14,"labelFontSize":15,"labelFont":"DejaVu Sans","labelColor":"black","rowPadding":0,"offset":14}}}},
{"transform":[{"filter":"isValid(datum.lo)"}],"mark":{"type":"errorbar","ticks":{"size":7},"color":"black","thickness":1},"encoding":{"y":{"field":"lo","type":"quantitative","title":"% Growth"},"y2":{"field":"hi"}}},
{"mark":{"type":"point","shape":"diamond","filled":true,"opacity":1,"strokeWidth":1,"size":100},"encoding":{"fill":{"field":"s","type":"nominal","scale":{"domain":["THZ1","ERL","THZ1+ERL"],"range":["#ff0000","#0000ff","#00b050"]},"legend":{"orient":"bottom","direction":"vertical","title":null,"symbolType":"M-3.4,0L3.4,0M0,-0.75L0.75,0L0,0.75L-0.75,0Z","symbolSize":100,"symbolStrokeWidth":2.5,"labelOffset":14,"labelFontSize":15,"labelFont":"DejaVu Sans","labelColor":"black","rowPadding":0,"offset":14}},"stroke":{"field":"s","type":"nominal","scale":{"domain":["THZ1","ERL","THZ1+ERL"],"range":["#ff0000","#0000ff","#00b050"]},"legend":{"orient":"bottom","direction":"vertical","title":null,"symbolType":"M-3.4,0L3.4,0M0,-0.75L0.75,0L0,0.75L-0.75,0Z","symbolSize":100,"symbolStrokeWidth":2.5,"labelOffset":14,"labelFontSize":15,"labelFont":"DejaVu Sans","labelColor":"black","rowPadding":0,"offset":14}}}}
]},
{"data":{"name":"pts"},"transform":[{"filter":"datum.p==='JIMT-1' && datum.s==='THZ1+ERL'"}],
"encoding":{"x":{"field":"d","type":"quantitative","scale":{"domain":[0,50],"nice":false},"axis":null},"y":{"field":"v","type":"quantitative","scale":{"domain":[0,120],"nice":false},"axis":{"values":[0,20,40,60,80,100,120]},"title":"% Growth"}},
"layer":[
{"mark":{"type":"line","interpolate":"catmull-rom","strokeWidth":2.5},"encoding":{"stroke":{"field":"s","type":"nominal","scale":{"domain":["THZ1","ERL","THZ1+ERL"],"range":["#ff0000","#0000ff","#00b050"]},"legend":{"orient":"bottom","direction":"vertical","title":null,"symbolType":"M-3.4,0L3.4,0M0,-0.75L0.75,0L0,0.75L-0.75,0Z","symbolSize":100,"symbolStrokeWidth":2.5,"labelOffset":14,"labelFontSize":15,"labelFont":"DejaVu Sans","labelColor":"black","rowPadding":0,"offset":14}}}},
{"transform":[{"filter":"isValid(datum.lo)"}],"mark":{"type":"errorbar","ticks":{"size":7},"color":"black","thickness":1},"encoding":{"y":{"field":"lo","type":"quantitative","title":"% Growth"},"y2":{"field":"hi"}}},
{"mark":{"type":"point","shape":"diamond","filled":true,"opacity":1,"strokeWidth":1,"size":100},"encoding":{"fill":{"field":"s","type":"nominal","scale":{"domain":["THZ1","ERL","THZ1+ERL"],"range":["#ff0000","#0000ff","#00b050"]},"legend":{"orient":"bottom","direction":"vertical","title":null,"symbolType":"M-3.4,0L3.4,0M0,-0.75L0.75,0L0,0.75L-0.75,0Z","symbolSize":100,"symbolStrokeWidth":2.5,"labelOffset":14,"labelFontSize":15,"labelFont":"DejaVu Sans","labelColor":"black","rowPadding":0,"offset":14}},"stroke":{"field":"s","type":"nominal","scale":{"domain":["THZ1","ERL","THZ1+ERL"],"range":["#ff0000","#0000ff","#00b050"]},"legend":{"orient":"bottom","direction":"vertical","title":null,"symbolType":"M-3.4,0L3.4,0M0,-0.75L0.75,0L0,0.75L-0.75,0Z","symbolSize":100,"symbolStrokeWidth":2.5,"labelOffset":14,"labelFontSize":15,"labelFont":"DejaVu Sans","labelColor":"black","rowPadding":0,"offset":14}}}}
]},
{"data":{"name":"ci"},"transform":[{"filter":"datum.p==='JIMT-1'"}],"mark":{"type":"text","font":"Open Sans","fontSize":20.5,"color":"black","align":"center","baseline":"middle"},
"encoding":{"x":{"field":"d","type":"quantitative","scale":{"domain":[0,50],"nice":false},"axis":null},"y":{"field":"v","type":"quantitative","scale":{"domain":[0,120],"nice":false},"axis":{"values":[0,20,40,60,80,100,120]},"title":"% Growth"},"text":{"field":"t"}}}
]}
],
"config":{
"view":{"stroke":null},
"font":"DejaVu Sans",
"axis":{"grid":false,"domainColor":"#a0a0a0","tickColor":"#a0a0a0","tickSize":4,"labelFont":"DejaVu Sans","labelFontSize":13.5,"labelColor":"#222222","titleFont":"DejaVu Sans","titleFontSize":14,"titleFontWeight":"bold","titleColor":"black","labelPadding":3,"labelFlush":false,"labelOverlap":false,"titlePadding":5},
"axisTop":{"labelPadding":8,"titlePadding":9},
"axisBottom":{"labelPadding":9,"titlePadding":12},
"axisLeft":{"labelPadding":5,"titlePadding":13},
"title":{"font":"DejaVu Sans","fontSize":21,"fontWeight":"bold","color":"black","frame":"group","anchor":"middle","offset":19}
}
}
